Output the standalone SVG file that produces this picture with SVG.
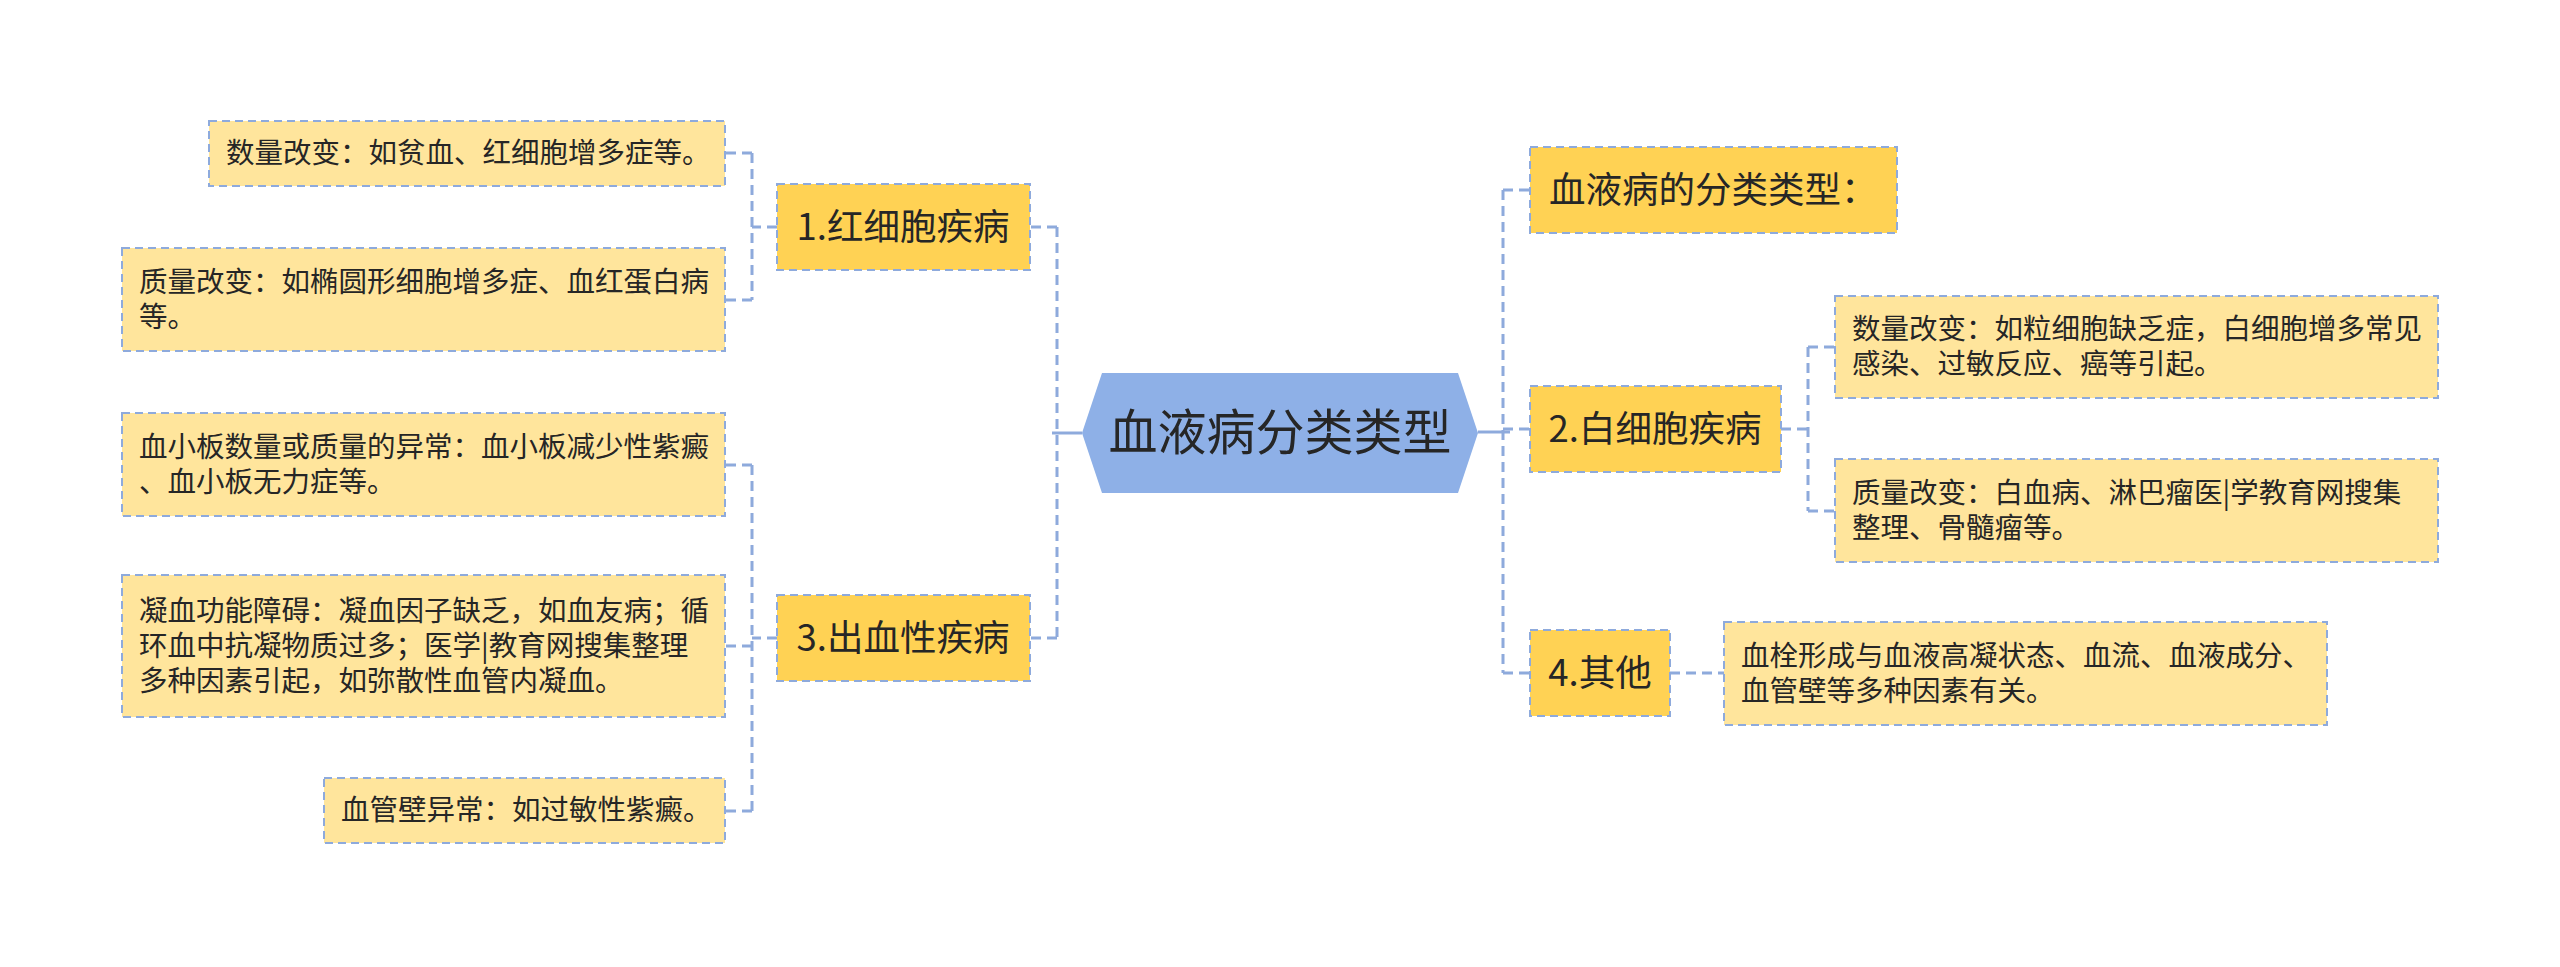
<svg xmlns="http://www.w3.org/2000/svg" width="2560" height="967" viewBox="0 0 2560 967">
<style>
text{font-family:"Noto Sans CJK SC","Microsoft YaHei",sans-serif;fill:#262626}
.c{font-size:49px;text-anchor:middle}
.l1{font-size:36.5px;text-anchor:middle}
.l2{font-size:28.5px}
.b1{fill:#FFD254;stroke:#8EAADC;stroke-width:2;stroke-dasharray:8 5}
.b2{fill:#FFE59C;stroke:#8EAADC;stroke-width:2;stroke-dasharray:8 5}
.ln{fill:none;stroke:#8EAADC;stroke-width:3;stroke-dasharray:10 6}
.sl{fill:none;stroke:#8EAADC;stroke-width:3}
</style>
<rect width="2560" height="967" fill="#ffffff"/>
<g id="connectors">
<path class="sl" d="M1082 433 H1052"/>
<path class="ln" d="M1057 227 V638 M1057 227 H1030 M1057 638 H1030"/>
<path class="sl" d="M1478 432 H1510"/>
<path class="ln" d="M1503 190 V673 M1503 190 H1530 M1503 429 H1530 M1503 673 H1530"/>
<path class="ln" d="M777 227 H752 M752 153 V300 M752 153 H725 M752 300 H725"/>
<path class="ln" d="M777 638 H752 M752 465 V811 M752 465 H725 M752 646 H725 M752 811 H725"/>
<path class="ln" d="M1781 429 H1808 M1808 347 V511 M1808 347 H1835 M1808 511 H1835"/>
<path class="ln" d="M1670 673 H1724"/>
</g>
<g id="center">
<polygon points="1082,433 1102,373 1458,373 1478,433 1458,493 1102,493" fill="#8EB0E7"/>
<text class="c" x="1280" y="450">血液病分类类型</text>
</g>
<g id="n1">
<rect class="b1" x="777" y="184" width="253" height="86"/>
<text class="l1" x="903" y="240">1.红细胞疾病</text>
</g>
<g id="n3">
<rect class="b1" x="777" y="595" width="253" height="86"/>
<text class="l1" x="903" y="651">3.出血性疾病</text>
</g>
<g id="n0">
<rect class="b1" x="1530" y="147" width="367" height="86"/>
<text class="l1" x="1549" y="203" style="text-anchor:start">血液病的分类类型：</text>
</g>
<g id="n2">
<rect class="b1" x="1530" y="386" width="251" height="86"/>
<text class="l1" x="1655" y="442">2.白细胞疾病</text>
</g>
<g id="n4">
<rect class="b1" x="1530" y="630" width="140" height="86"/>
<text class="l1" x="1600" y="686">4.其他</text>
</g>
<g id="l1">
<rect class="b2" x="209" y="121" width="516" height="65"/>
<text class="l2" x="226" y="163">数量改变：如贫血、红细胞增多症等。</text>
</g>
<g id="l2">
<rect class="b2" x="122" y="248" width="603" height="103"/>
<text class="l2" x="139" y="292">质量改变：如椭圆形细胞增多症、血红蛋白病<tspan x="139" dy="35">等。</tspan></text>
</g>
<g id="l3">
<rect class="b2" x="122" y="413" width="603" height="103"/>
<text class="l2" x="139" y="457">血小板数量或质量的异常：血小板减少性紫癜<tspan x="139" dy="35">、血小板无力症等。</tspan></text>
</g>
<g id="l4">
<rect class="b2" x="122" y="575" width="603" height="142"/>
<text class="l2" x="139" y="621">凝血功能障碍：凝血因子缺乏，如血友病；循<tspan x="139" dy="35">环血中抗凝物质过多；医学|教育网搜集整理</tspan><tspan x="139" dy="35">多种因素引起，如弥散性血管内凝血。</tspan></text>
</g>
<g id="l5">
<rect class="b2" x="324" y="778" width="401" height="65"/>
<text class="l2" x="341" y="820">血管壁异常：如过敏性紫癜。</text>
</g>
<g id="r1">
<rect class="b2" x="1835" y="296" width="603" height="102"/>
<text class="l2" x="1852" y="339">数量改变：如粒细胞缺乏症，白细胞增多常见<tspan x="1852" dy="35">感染、过敏反应、癌等引起。</tspan></text>
</g>
<g id="r2">
<rect class="b2" x="1835" y="459" width="603" height="103"/>
<text class="l2" x="1852" y="503">质量改变：白血病、淋巴瘤医|学教育网搜集<tspan x="1852" dy="35">整理、骨髓瘤等。</tspan></text>
</g>
<g id="r3">
<rect class="b2" x="1724" y="622" width="603" height="103"/>
<text class="l2" x="1741" y="666">血栓形成与血液高凝状态、血流、血液成分、<tspan x="1741" dy="35">血管壁等多种因素有关。</tspan></text>
</g>
</svg>
